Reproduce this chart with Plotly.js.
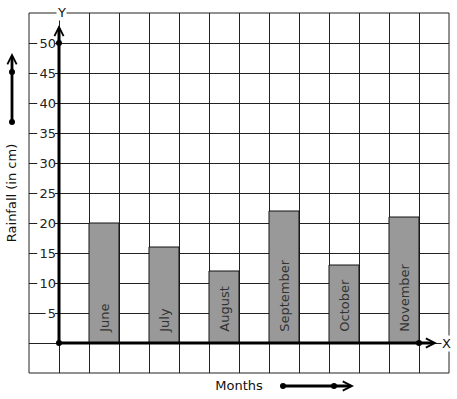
<!DOCTYPE html>
<html><head><meta charset="utf-8">
<script src="https://cdn.plot.ly/plotly-3.0.1.min.js"></script>
<style>html,body{margin:0;padding:0;background:#fff}</style>
</head><body>
<div id="chart" style="width:457px;height:399px"></div>
<script>
// ---- data ----
const months = ['June', 'July', 'August', 'September', 'October', 'November'];
const rainfall = [20, 16, 12, 22, 13, 21];
const yTickVals = [-5, 0, 5, 10, 15, 20, 25, 30, 35, 40, 45, 50, 55];
const yTickText = ['', '', '5', '10', '15', '20', '25', '30', '35', '40', '45', '50', ''];
const xTitle = 'Months';
const yTitle = 'Rainfall (in cm)';
const xAxisName = 'X';
const yAxisName = 'Y';

// ---- drawing ----
const FONT = 'DejaVu Sans, sans-serif';
const INK = '#222';
const barX = months.map((m, i) => 1.5 + 2 * i);

const bars = {
  type: 'bar', x: barX, y: rainfall, width: 1,
  text: months.map(m => '\u00a0\u00a0' + m),
  textposition: 'inside', insidetextanchor: 'start', textangle: -90,
  textfont: {family: FONT, size: 13, color: '#333'},
  marker: {color: '#999999', line: {color: '#111', width: 1}},
  hoverinfo: 'skip', showlegend: false
};

function dot(xref, yref, x, y) {
  return {type: 'circle', xref: xref, yref: yref, xsizemode: 'pixel', ysizemode: 'pixel',
    xanchor: x, yanchor: y, x0: -3, x1: 3, y0: -3, y1: 3,
    fillcolor: '#000', line: {width: 0}, layer: 'above'};
}

// white backing behind tick labels (labels sit over the grid)
const labelBacks = yTickVals.map((v, i) => yTickText[i] ? {
  type: 'rect', xref: 'x', yref: 'y', xsizemode: 'pixel', ysizemode: 'pixel',
  xanchor: 0, yanchor: v, x0: -(5 + 8.4 * yTickText[i].length), x1: -4, y0: -6, y1: 7,
  fillcolor: '#fff', line: {width: 0}, layer: 'between'
} : null).filter(Boolean);

const layout = {
  width: 457, height: 399,
  margin: {l: 29, r: 8, t: 13, b: 26, pad: 0},
  paper_bgcolor: '#fff', plot_bgcolor: '#fff',
  font: {family: FONT, size: 13, color: INK},
  showlegend: false,
  bargap: 0,
  xaxis: {
    range: [-1, 13], tick0: 0, dtick: 1, showgrid: true, gridcolor: INK, gridwidth: 1,
    zeroline: false, showticklabels: false, ticks: '', showline: false, fixedrange: true,
    title: {text: xTitle, font: {family: FONT, size: 13, color: '#111'}, standoff: 7}
  },
  yaxis: {
    range: [-5, 55], tickmode: 'array', tickvals: yTickVals, ticktext: yTickText,
    showgrid: true, gridcolor: INK, gridwidth: 1, zeroline: false, ticks: '',
    showline: false, anchor: 'free', position: 1 / 14, fixedrange: true,
    ticklabelstandoff: 3,
    tickfont: {family: FONT, size: 13, color: INK},
    title: {text: yTitle, font: {family: FONT, size: 13, color: '#111'}, standoff: 18}
  },
  shapes: labelBacks.concat([
    {type: 'rect', xref: 'paper', yref: 'paper', x0: 0, x1: 1, y0: 0, y1: 1,
     line: {color: INK, width: 1}, layer: 'above'},
    dot('x', 'y', 0, 0), dot('x', 'y', 0, 50), dot('x', 'y', 12, 0),
    dot('paper', 'paper', (12 - 29) / 420, (373 - 72) / 360),
    dot('paper', 'paper', (12 - 29) / 420, (373 - 122) / 360),
    dot('paper', 'paper', (283 - 29) / 420, (373 - 386) / 360),
    dot('paper', 'paper', (334 - 29) / 420, (373 - 386) / 360)
  ]),
  annotations: [
    {x: 0, y: 53, xref: 'x', yref: 'y', ax: 0, ay: 0, axref: 'x', ayref: 'y',
     text: '', showarrow: true, arrowhead: 5, arrowsize: 0.6, arrowwidth: 3, arrowcolor: '#000'},
    {x: 12.6, y: 0, xref: 'x', yref: 'y', ax: 0, ay: 0, axref: 'x', ayref: 'y',
     text: '', showarrow: true, arrowhead: 5, arrowsize: 0.6, arrowwidth: 3, arrowcolor: '#000'},
    {x: (12 - 29) / 420, y: (373 - 53) / 360, xref: 'paper', yref: 'paper', ax: 0, ay: 69,
     text: '', showarrow: true, arrowhead: 5, arrowsize: 0.65, arrowwidth: 2.8, arrowcolor: '#000'},
    {x: (354 - 29) / 420, y: (373 - 386) / 360, xref: 'paper', yref: 'paper', ax: -71, ay: 0,
     text: '', showarrow: true, arrowhead: 5, arrowsize: 0.65, arrowwidth: 2.8, arrowcolor: '#000'},
    {x: 0, y: 55, xref: 'x', yref: 'y', text: yAxisName, showarrow: false, bgcolor: '#fff',
     font: {family: FONT, size: 13, color: '#111'}, xshift: 2, yshift: 1, borderpad: 0},
    {x: 13, y: 0, xref: 'x', yref: 'y', text: xAxisName, showarrow: false, bgcolor: '#fff',
     font: {family: FONT, size: 13, color: '#111'}, xshift: -3, borderpad: 0}
  ]
};

Plotly.newPlot('chart', [bars], layout, {staticPlot: true, displayModeBar: false});
</script>
</body></html>
